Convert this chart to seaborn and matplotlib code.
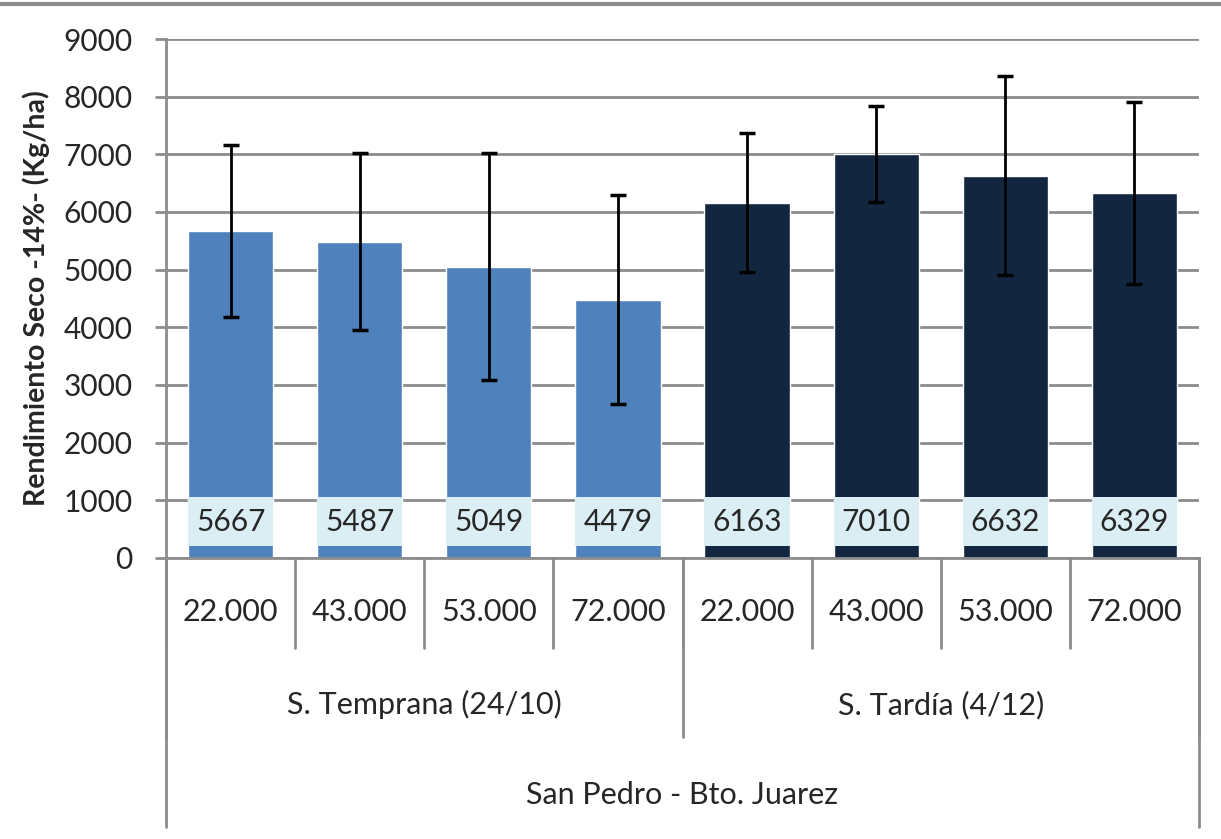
import numpy as np
import pandas as pd
import seaborn as sns
import matplotlib.pyplot as plt
from matplotlib.transforms import blended_transform_factory
from matplotlib.patches import Rectangle

# Data
siembra = ["S. Temprana (24/10)"] * 4 + ["S. Tardía (4/12)"] * 4
densidad = ["22.000", "43.000", "53.000", "72.000"] * 2
rendimiento = [5667, 5487, 5049, 4479, 6163, 7010, 6632, 6329]
error = [1490, 1530, 1970, 1810, 1210, 830, 1730, 1575]
localidad = "San Pedro - Bto. Juarez"

df = pd.DataFrame({
    "siembra": siembra,
    "densidad": densidad,
    "rendimiento": rendimiento,
    "error": error,
})
df["clave"] = df["siembra"] + " | " + df["densidad"]

sns.set_style("white")
plt.rcParams['font.family'] = ['Lato', 'DejaVu Sans']

GRID = "#8c8c8c"
palette = {"S. Temprana (24/10)": "#4F81BD", "S. Tardía (4/12)": "#12263F"}

fig = plt.figure(figsize=(12.21, 8.39), dpi=100)
ax = fig.add_axes([0.136, 0.335, 0.846, 0.6185])

sns.barplot(data=df, x="clave", y="rendimiento", hue="siembra", palette=palette,
            dodge=False, width=0.66, saturation=1, errorbar=None, legend=False, ax=ax)

xpos = np.arange(len(df))
ax.errorbar(xpos, df["rendimiento"], yerr=df["error"], fmt="none", ecolor="black",
            elinewidth=2, capsize=5.5, capthick=2.5, zorder=5)

# value labels in light boxes near the base
for x, v in zip(xpos, df["rendimiento"]):
    ax.add_patch(Rectangle((x - 0.33, 200), 0.66, 860, facecolor="#DAEEF3",
                           edgecolor="none", zorder=4))
    ax.text(x, 630, f"{v}", ha="center", va="center", fontsize=21.5, zorder=6)

ax.set_ylim(0, 9000)
ax.set_xlim(-0.5, len(df) - 0.5)
ax.set_yticks(range(0, 9001, 1000))
ax.yaxis.grid(True, color=GRID, linewidth=2)
ax.set_axisbelow(True)
ax.tick_params(axis="y", labelsize=21.5, length=8, width=2, color=GRID, pad=16, left=True)
ax.tick_params(axis="x", bottom=False, labelbottom=False)
ax.set_xlabel("")
ax.set_ylabel("Rendimiento Seco -14%- (Kg/ha)", fontsize=20.5, fontweight="bold", labelpad=10)

for s in ["top", "right"]:
    ax.spines[s].set_visible(False)
for s in ["left", "bottom"]:
    ax.spines[s].set_color(GRID)
    ax.spines[s].set_linewidth(2)

# multi-level category axis
tr = blended_transform_factory(ax.transData, ax.transAxes)
line_kw = dict(color=GRID, linewidth=2, transform=tr, clip_on=False)

for x, d in zip(xpos, df["densidad"]):
    ax.text(x, -0.104, d, ha="center", va="center", fontsize=22, transform=tr)
for x in np.arange(len(df) + 1) - 0.5:
    ax.plot([x, x], [0, -0.173], **line_kw)

grupos = df.groupby("siembra", sort=False).size()
inicio = -0.5
for nombre, n in grupos.items():
    ax.text(inicio + n / 2, -0.283, nombre, ha="center", va="center", fontsize=22, transform=tr)
    ax.plot([inicio, inicio], [0, -0.345], **line_kw)
    inicio += n
ax.plot([inicio, inicio], [0, -0.345], **line_kw)

ax.text((len(df) - 1) / 2, -0.457, localidad, ha="center", va="center", fontsize=22, transform=tr)
ax.plot([-0.5, -0.5], [0, -0.518], **line_kw)
ax.plot([len(df) - 0.5, len(df) - 0.5], [0, -0.518], **line_kw)

# thin frame line across the top of the figure
fig.add_artist(plt.Line2D([0, 1], [0.995, 0.995], color=GRID, linewidth=3,
                          transform=fig.transFigure))

fig.savefig("out.png", dpi=100)
